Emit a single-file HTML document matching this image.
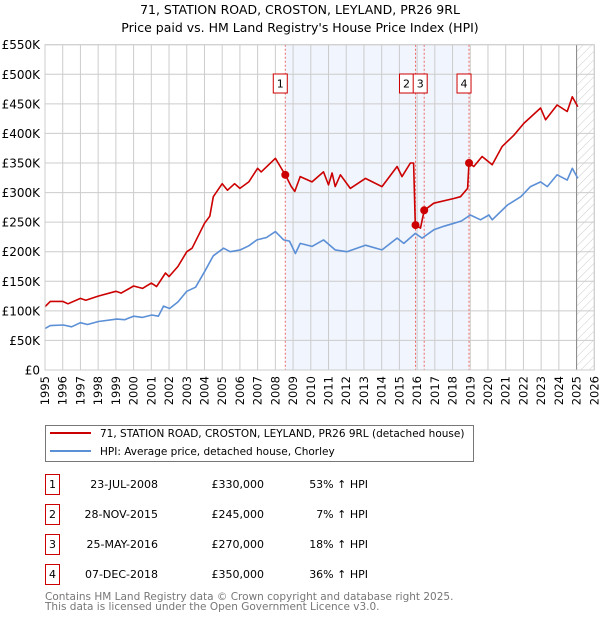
<!DOCTYPE html>
<html><head><meta charset="utf-8">
<style>
body{margin:0;background:#fff;font-family:"Liberation Sans","DejaVu Sans",sans-serif;}
svg text{font-family:"DejaVu Sans","Liberation Sans",sans-serif;}
</style></head>
<body>
<svg id="chart" width="600" height="620" xmlns="http://www.w3.org/2000/svg">
<defs>
<pattern id="hatch" patternUnits="userSpaceOnUse" width="6" height="6" patternTransform="rotate(45)">
<line x1="0" y1="0" x2="0" y2="6" stroke="#ccc" stroke-width="1"/>
</pattern>
</defs>
<text x="300" y="14" font-size="12.5" text-anchor="middle">71, STATION ROAD, CROSTON, LEYLAND, PR26 9RL</text>
<text x="300" y="32" font-size="12.5" text-anchor="middle">Price paid vs. HM Land Registry's House Price Index (HPI)</text>
<g id="plot"></g>
<g>
<rect x="45.5" y="425.5" width="428" height="36" fill="#fff" stroke="#777"/>
<line x1="50" y1="433" x2="91" y2="433" stroke="#cc0000" stroke-width="2"/>
<text x="100" y="437" font-size="10.5">71, STATION ROAD, CROSTON, LEYLAND, PR26 9RL (detached house)</text>
<line x1="50" y1="451" x2="91" y2="451" stroke="#5b8fd6" stroke-width="2"/>
<text x="100" y="455" font-size="10.5">HPI: Average price, detached house, Chorley</text>
</g>
<g id="table"></g>
<text x="45" y="600" font-size="10.5" fill="#777">Contains HM Land Registry data © Crown copyright and database right 2025.</text>
<text x="45" y="610" font-size="10.5" fill="#777">This data is licensed under the Open Government Licence v3.0.</text>
</svg>
<script>
const hpiYears=[1995.0,1995.3,1996.04,1996.5,1997,1997.4,1998.02,1999.05,1999.5,2000,2000.5,2001.03,2001.4,2001.69,2002.03,2002.5,2003.0,2003.5,2004.0,2004.5,2005.08,2005.45,2006.02,2006.5,2006.96,2007.5,2008.0,2008.47,2008.8,2009.13,2009.4,2010.07,2010.72,2011.38,2012.04,2013.08,2014.02,2014.87,2015.25,2015.9,2016.28,2016.94,2017.5,2018.07,2018.5,2019.0,2019.58,2020.05,2020.24,2021.1,2021.85,2022.4,2022.97,2023.35,2023.9,2024.47,2024.76,2025.07];
const hpiValues=[70,75,76,73,80,77,82,86,85,91,89,93,91,108,104,115,133,140,166,193,206,200,203,210,220,224,234,220,218,197,214,209,220,203,200,211,203,223,214,231,223,237,243,248,252,262,254,262,254,279,293,310,318,310,330,321,341,324];
const propYears=[1995.0,1995.3,1996.0,1996.3,1997.0,1997.3,1998.0,1999.0,1999.3,2000.0,2000.5,2001.0,2001.3,2001.8,2002.0,2002.5,2003.0,2003.3,2004.0,2004.3,2004.5,2005.0,2005.3,2005.7,2006.0,2006.5,2007.0,2007.2,2008.0,2008.4,2008.56,2008.9,2009.1,2009.4,2010.07,2010.72,2011.0,2011.2,2011.38,2011.67,2012.23,2013.08,2014.02,2014.87,2015.15,2015.62,2015.8,2015.9,2016.19,2016.4,2016.94,2018.07,2018.45,2018.85,2018.93,2019.2,2019.67,2020.24,2020.8,2021.46,2022.02,2022.97,2023.25,2023.9,2024.47,2024.76,2025.07];
const propValues=[107,116,116,112,121,118,125,133,130,142,138,147,141,164,158,175,200,206,248,260,293,315,304,315,307,318,341,335,358,338,330,310,302,327,318,335,313,333,310,330,307,324,310,344,327,350,350,245,240,270,282,290,293,307,350,344,361,347,378,397,417,443,423,448,437,462,445];
const saleIds=["1","2","3","4"];
const saleYears=[2008.56,2015.91,2016.4,2018.93];
const saleValues=[330,245,270,350];
const saleDates=["23-JUL-2008","28-NOV-2015","25-MAY-2016","07-DEC-2018"];
const salePrices=["£330,000","£245,000","£270,000","£350,000"];
const salePct=["53% ↑ HPI","7% ↑ HPI","18% ↑ HPI","36% ↑ HPI"];
const yTicks=[0,50,100,150,200,250,300,350,400,450,500,550];
const yTickLabels=["£0","£50K","£100K","£150K","£200K","£250K","£300K","£350K","£400K","£450K","£500K","£550K"];
const xTicks=[1995,1996,1997,1998,1999,2000,2001,2002,2003,2004,2005,2006,2007,2008,2009,2010,2011,2012,2013,2014,2015,2016,2017,2018,2019,2020,2021,2022,2023,2024,2025,2026];

const X0=45,X1=594.3,Y0=370,Y1=44.7,yr0=1995,yr1=2026,vmax=550;
const sx=y=>X0+(y-yr0)/(yr1-yr0)*(X1-X0);
const sy=v=>Y0-v/vmax*(Y0-Y1);
const NS="http://www.w3.org/2000/svg";
const plot=document.getElementById('plot');
function mk(tag,attrs,parent){const e=document.createElementNS(NS,tag);for(const k in attrs)e.setAttribute(k,attrs[k]);(parent||plot).appendChild(e);return e;}

let e;
e=mk('rect',{x:sx(saleYears[0]),y:Y1,width:sx(saleYears[3])-sx(saleYears[0]),height:Y0-Y1,fill:'#eef2fc',opacity:0.8});


e=mk('rect',{x:sx(2025),y:Y1,width:X1-sx(2025),height:Y0-Y1,fill:'url(#hatch)'});


xTicks.forEach((t,i)=>{
 const g=mk('line',{x1:sx(t),x2:sx(t),y1:Y1,y2:Y0,stroke:'#ccc','stroke-width':1});
 
 
 const l=mk('text',{x:0,y:0,'font-size':11.5,'text-anchor':'end',transform:`translate(${sx(t)+4},${Y0+6}) rotate(-90)`});
 l.textContent=t;
 
 
});
yTicks.forEach((t,i)=>{
 const g=mk('line',{x1:X0,x2:X1,y1:sy(t),y2:sy(t),stroke:'#ccc','stroke-width':1});
 
 
 const l=mk('text',{x:40,y:sy(t)+4.5,'font-size':12,'text-anchor':'end'});
 l.textContent=yTickLabels[i];
 
 
});
e=mk('line',{x1:sx(2025),x2:sx(2025),y1:Y1,y2:Y0,stroke:'#888','stroke-width':1});


saleYears.forEach((y,i)=>{
 const l=mk('line',{x1:sx(y),x2:sx(y),y1:Y1,y2:Y0,stroke:'#e66','stroke-width':1,'stroke-dasharray':'2,2'});
 
 
});
function path(xs,vs,color,name){
 const d=xs.map((x,i)=>(i?'L':'M')+sx(x).toFixed(1)+','+sy(vs[i]).toFixed(1)).join('');
 const p=mk('path',{d:d,fill:'none',stroke:color,'stroke-width':1.6,'stroke-linejoin':'round'});
 
 
}
path(hpiYears,hpiValues,'#5b8fd6','hpi-line');
path(propYears,propValues,'#cc0000','property-price-line');
saleYears.forEach((y,i)=>{
 const c=mk('circle',{cx:sx(y),cy:sy(saleValues[i]),r:4,fill:'#cc0000'});
 
 
});
const labelX=[sx(saleYears[0])-5,sx(saleYears[1])-9,sx(saleYears[2])-4,sx(saleYears[3])-5];
saleIds.forEach((id,i)=>{
 const r=mk('rect',{x:labelX[i]-7,y:74,width:14,height:19,fill:'#fff',stroke:'#cc0000'});
 
 
 const t=mk('text',{x:labelX[i],y:87.5,'font-size':11,'text-anchor':'middle'});
 t.textContent=id;
 
 
});
e=mk('rect',{x:X0,y:Y1,width:X1-X0,height:Y0-Y1,fill:'none',stroke:'#ccc'});



const tbl=document.getElementById('table');
saleIds.forEach((id,i)=>{
 const y=483+i*30;
 let r=mk('rect',{x:45.5,y:y-8.5,width:14,height:20,fill:'#fff',stroke:'#cc0000'},tbl);
 
 
 let t=mk('text',{x:52.5,y:y+5,'font-size':11,'text-anchor':'middle'},tbl);t.textContent=id;
 
 
 t=mk('text',{x:158,y:y+5,'font-size':11,'text-anchor':'end'},tbl);t.textContent=saleDates[i];
 
 
 t=mk('text',{x:264,y:y+5,'font-size':11,'text-anchor':'end'},tbl);t.textContent=salePrices[i];
 
 
 t=mk('text',{x:368,y:y+5,'font-size':11,'text-anchor':'end'},tbl);t.textContent=salePct[i];
 
 
});
</script>
</body></html>
